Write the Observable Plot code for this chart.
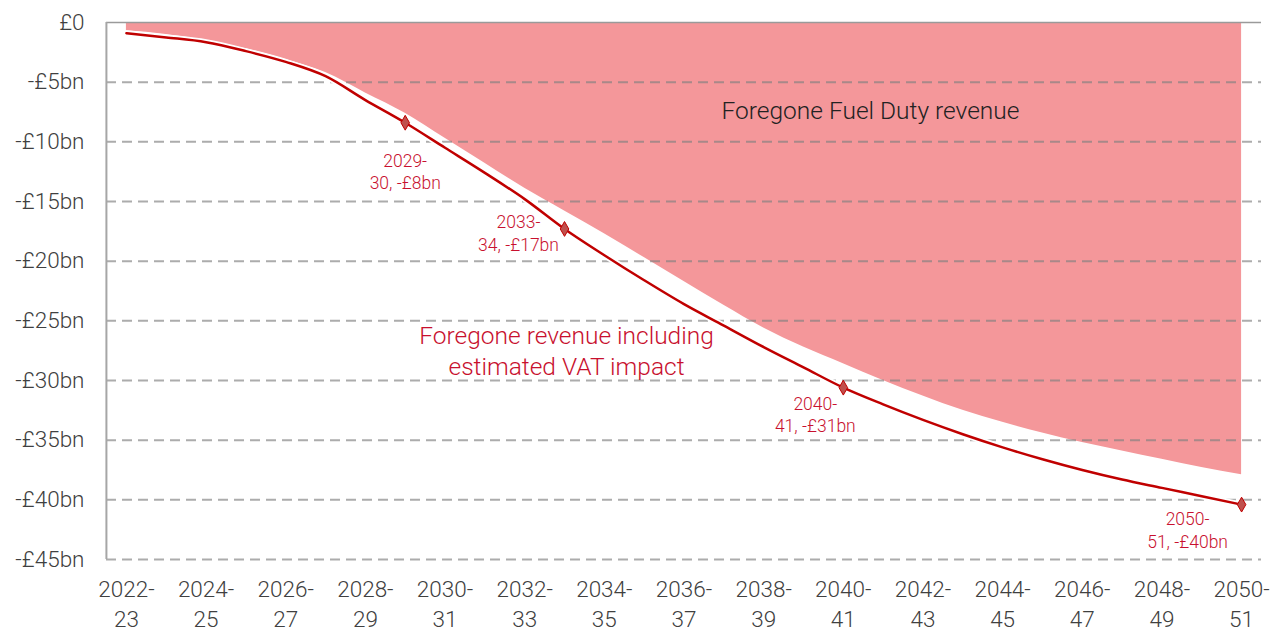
<!DOCTYPE html>
<html>
<head>
<meta charset="utf-8">
<script src="https://cdn.jsdelivr.net/npm/d3@7"></script>
<script src="https://cdn.jsdelivr.net/npm/@observablehq/plot@0.6"></script>
<style>
  html, body { margin: 0; padding: 0; background: #fff; }
  #chart svg { display: block; }
</style>
</head>
<body>
<div id="chart"></div>
<script>
const years = ["2022-23","2023-24","2024-25","2025-26","2026-27","2027-28","2028-29","2029-30","2030-31","2031-32","2032-33","2033-34","2034-35","2035-36","2036-37","2037-38","2038-39","2039-40","2040-41","2041-42","2042-43","2043-44","2044-45","2045-46","2046-47","2047-48","2048-49","2049-50","2050-51"];
// Foregone Fuel Duty revenue (£bn)
const fuelDuty = [-0.7,-1.0,-1.5,-2.2,-3.1,-4.2,-5.9,-7.6,-9.7,-11.8,-13.9,-15.8,-17.7,-19.7,-21.7,-23.7,-25.6,-27.2,-28.6,-30.0,-31.3,-32.5,-33.5,-34.4,-35.2,-35.9,-36.6,-37.3,-37.9];
// Foregone revenue including estimated VAT impact (£bn)
const inclVat = [-0.9,-1.25,-1.65,-2.4,-3.3,-4.5,-6.5,-8.4,-10.5,-12.6,-14.8,-17.3,-19.5,-21.6,-23.6,-25.4,-27.2,-28.9,-30.6,-32.0,-33.3,-34.5,-35.6,-36.6,-37.5,-38.3,-39.0,-39.7,-40.4];
const tickYears = years.filter((d, i) => i % 2 === 0);
const yTicks = [0,-5,-10,-15,-20,-25,-30,-35,-40,-45];
const gridTicks = [-5,-10,-15,-20,-25,-30,-35,-40,-45];
const highlightYears = ["2029-30","2033-34","2040-41","2050-51"];
const highlightLabels = ["2029-\n30, -£8bn","2033-\n34, -£17bn","2040-\n41, -£31bn","2050-\n51, -£40bn"];
const areaLabel = "Foregone Fuel Duty revenue";
const lineLabel = "Foregone revenue including\nestimated VAT impact";

const data = years.map((y, i) => ({year: y, fuel: fuelDuty[i], vat: inclVat[i]}));
const highlights = highlightYears.map((y, i) => ({year: y, value: inclVat[years.indexOf(y)], label: highlightLabels[i]}));

const RED = "#c00000";
const LABEL_RED = "#c8102e";
const labelOffsets = [[0, 48], [-46, 3], [-28, 26], [-54, 24.5]];

const chart = Plot.plot({
  width: 1278,
  height: 630,
  marginLeft: 106,
  marginRight: 17,
  marginTop: 22,
  marginBottom: 71,
  style: {fontFamily: "Roboto, sans-serif", background: "#fff", overflow: "visible"},
  x: {type: "point", domain: years, padding: 0.5, round: false},
  y: {domain: [-45, 0]},
  marks: [
    Plot.areaY(data, {x: "year", y1: 0, y2: "fuel", fill: "#f4979a", curve: "monotone-x"}),
    Plot.ruleY(gridTicks, {stroke: "#808080", strokeOpacity: 0.65, strokeWidth: 2, strokeDasharray: "10,6"}),
    Plot.ruleY([0], {stroke: "#9a9a9a", strokeWidth: 1.5}),
    Plot.ruleX([years[0]], {x: d => d, y1: () => 0, y2: () => -45, stroke: "#a6a6a6", strokeWidth: 2, dx: -20}),
    Plot.line(data, {x: "year", y: "vat", stroke: "#fff", strokeWidth: 6, curve: "monotone-x"}),
    Plot.line(data, {x: "year", y: "vat", stroke: RED, strokeWidth: 2.5, curve: "monotone-x"}),
    Plot.dot(highlights, {x: "year", y: "value", symbol: "diamond", r: 4.5, fill: "#c0504d", stroke: RED, strokeWidth: 1}),
    ...highlights.map((h, i) => Plot.text([h], {
      x: "year", y: "value", text: "label",
      dx: labelOffsets[i][0], dy: labelOffsets[i][1],
      fill: LABEL_RED, fontSize: 17.5, fontWeight: 300, lineHeight: 1.3, textAnchor: "middle", lineAnchor: "middle"
    })),
    Plot.text([areaLabel], {x: () => "2039-40", y: () => -7.4, text: d => d, dx: 67, fill: "#222", fontSize: 24.5, fontWeight: 300, textAnchor: "middle", lineAnchor: "middle"}),
    Plot.text([lineLabel], {x: () => "2033-34", y: () => -27.4, text: d => d, dx: 2, fill: LABEL_RED, fontSize: 24.5, fontWeight: 300, lineHeight: 1.25, textAnchor: "middle", lineAnchor: "middle"}),
    Plot.axisY({ticks: yTicks, tickSize: 0, tickPadding: 22, fontSize: 22.5, fontWeight: 300, fill: "#404040", label: null,
      tickFormat: d => d === 0 ? "£0" : `-£${-d}bn`}),
    Plot.axisX({ticks: tickYears, tickSize: 0, tickPadding: 17, fontSize: 22.5, fontWeight: 300, lineHeight: 1.3, fill: "#404040", label: null,
      tickFormat: d => d.replace("-", "-\n")})
  ]
});
document.getElementById("chart").appendChild(chart);
</script>
</body>
</html>
